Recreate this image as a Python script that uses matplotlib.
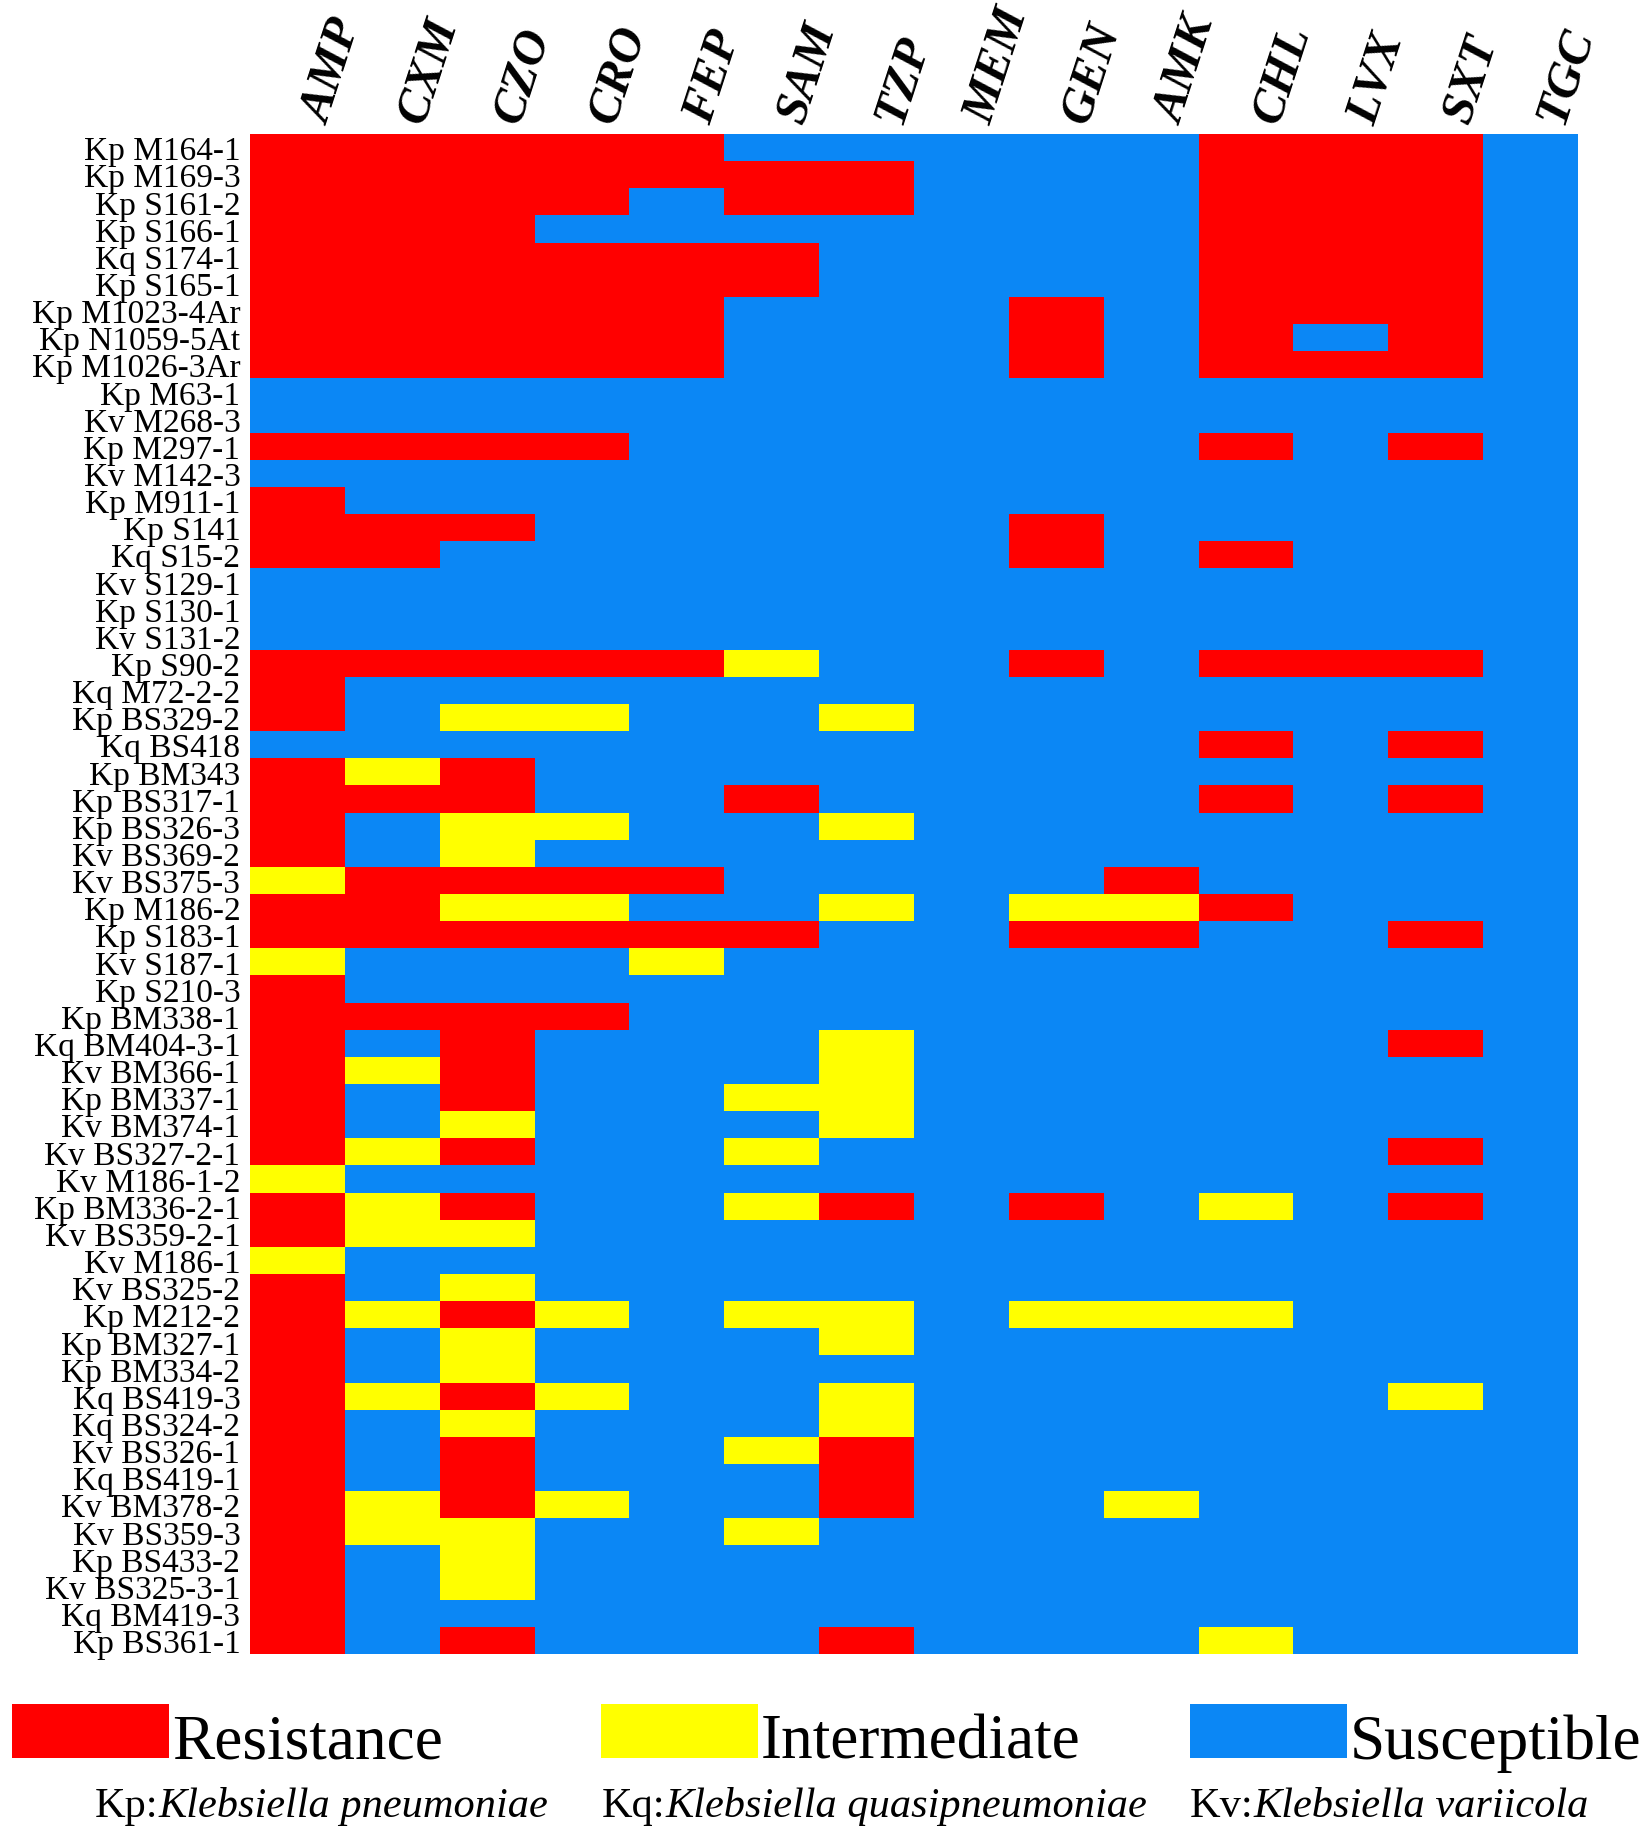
import numpy as np
import matplotlib
matplotlib.use('Agg')
import matplotlib.pyplot as plt
from matplotlib.colors import ListedColormap
from matplotlib.patches import Rectangle
import matplotlib.transforms as mtransforms

antibiotics = ['AMP', 'CXM', 'CZO', 'CRO', 'FEP', 'SAM', 'TZP',
               'MEM', 'GEN', 'AMK', 'CHL', 'LVX', 'SXT', 'TGC']

isolates = [
    'Kp M164-1', 'Kp M169-3', 'Kp S161-2', 'Kp S166-1', 'Kq S174-1',
    'Kp S165-1', 'Kp M1023-4Ar', 'Kp N1059-5At', 'Kp M1026-3Ar', 'Kp M63-1',
    'Kv M268-3', 'Kp M297-1', 'Kv M142-3', 'Kp M911-1', 'Kp S141',
    'Kq S15-2', 'Kv S129-1', 'Kp S130-1', 'Kv S131-2', 'Kp S90-2',
    'Kq M72-2-2', 'Kp BS329-2', 'Kq BS418', 'Kp BM343', 'Kp BS317-1',
    'Kp BS326-3', 'Kv BS369-2', 'Kv BS375-3', 'Kp M186-2', 'Kp S183-1',
    'Kv S187-1', 'Kp S210-3', 'Kp BM338-1', 'Kq BM404-3-1', 'Kv BM366-1',
    'Kp BM337-1', 'Kv BM374-1', 'Kv BS327-2-1', 'Kv M186-1-2', 'Kp BM336-2-1',
    'Kv BS359-2-1', 'Kv M186-1', 'Kv BS325-2', 'Kp M212-2', 'Kp BM327-1',
    'Kp BM334-2', 'Kq BS419-3', 'Kq BS324-2', 'Kv BS326-1', 'Kq BS419-1',
    'Kv BM378-2', 'Kv BS359-3', 'Kp BS433-2', 'Kv BS325-3-1', 'Kq BM419-3',
    'Kp BS361-1',
]

# R = resistance, I = intermediate, S = susceptible (order of antibiotics)
profiles = [
    'RRRRRSSSSSRRRS', 'RRRRRRRSSSRRRS', 'RRRRSRRSSSRRRS', 'RRRSSSSSSSRRRS',
    'RRRRRRSSSSRRRS', 'RRRRRRSSSSRRRS', 'RRRRRSSSRSRRRS', 'RRRRRSSSRSRSRS',
    'RRRRRSSSRSRRRS', 'SSSSSSSSSSSSSS', 'SSSSSSSSSSSSSS', 'RRRRSSSSSSRSRS',
    'SSSSSSSSSSSSSS', 'RSSSSSSSSSSSSS', 'RRRSSSSSRSSSSS', 'RRSSSSSSRSRSSS',
    'SSSSSSSSSSSSSS', 'SSSSSSSSSSSSSS', 'SSSSSSSSSSSSSS', 'RRRRRISSRSRRRS',
    'RSSSSSSSSSSSSS', 'RSIISSISSSSSSS', 'SSSSSSSSSSRSRS', 'RIRSSSSSSSSSSS',
    'RRRSSRSSSSRSRS', 'RSIISSISSSSSSS', 'RSISSSSSSSSSSS', 'IRRRRSSSSRSSSS',
    'RRIISSISIIRSSS', 'RRRRRRSSRRSSRS', 'ISSSISSSSSSSSS', 'RSSSSSSSSSSSSS',
    'RRRRSSSSSSSSSS', 'RSRSSSISSSSSRS', 'RIRSSSISSSSSSS', 'RSRSSIISSSSSSS',
    'RSISSSISSSSSSS', 'RIRSSISSSSSSRS', 'ISSSSSSSSSSSSS', 'RIRSSIRSRSISRS',
    'RIISSSSSSSSSSS', 'ISSSSSSSSSSSSS', 'RSISSSSSSSSSSS', 'RIRISIISIIISSS',
    'RSISSSISSSSSSS', 'RSISSSSSSSSSSS', 'RIRISSISSSSSIS', 'RSISSSISSSSSSS',
    'RSRSSIRSSSSSSS', 'RSRSSSRSSSSSSS', 'RIRISSRSSISSSS', 'RIISSISSSSSSSS',
    'RSISSSSSSSSSSS', 'RSISSSSSSSSSSS', 'RSSSSSSSSSSSSS', 'RSRSSSRSSSISSS',
]

categories = ['Resistance', 'Intermediate', 'Susceptible']
category_codes = ['R', 'I', 'S']
category_colors = ['#FF0000', '#FFFF00', '#0B87F5']

species_abbr = ['Kp:', 'Kq:', 'Kv:']
species_names = ['Klebsiella pneumoniae', 'Klebsiella quasipneumoniae',
                 'Klebsiella variicola']

plt.rcParams['font.family'] = ['Liberation Serif', 'DejaVu Serif']

W, H = 1650, 1840
fig = plt.figure(figsize=(W / 100, H / 100), dpi=100)
fig.patch.set_facecolor('white')

# heatmap axes (pixel layout converted to figure fraction)
hm_left, hm_right, hm_top, hm_bottom = 250, 1578, 135, 1655
ax = fig.add_axes([hm_left / W, 1 - hm_bottom / H,
                   (hm_right - hm_left) / W, (hm_bottom - hm_top) / H])

codes = np.array([[category_codes.index(c) for c in row] for row in profiles])
cmap = ListedColormap(category_colors)
ax.pcolormesh(np.arange(len(antibiotics) + 1), np.arange(len(isolates) + 1),
              codes, cmap=cmap, vmin=-0.5, vmax=2.5, shading='flat')
ax.set_xlim(0, len(antibiotics))
ax.set_ylim(len(isolates), 0)

ax.set_yticks(np.arange(len(isolates)) + 0.5)
ax.set_yticklabels(isolates, fontsize=24)
ax.xaxis.tick_top()
ax.set_xticks(np.arange(len(antibiotics)) + 0.5)
ax.set_xticklabels(antibiotics, fontsize=35, fontweight='bold',
                   fontstyle='italic', rotation=72, ha='center', va='bottom')
ax.tick_params(axis='both', length=0)
ax.tick_params(axis='y', pad=7)
ax.tick_params(axis='x', pad=4)
offset = mtransforms.ScaledTranslation(36 / 100, 0, fig.dpi_scale_trans)
for lab in ax.get_xticklabels():
    lab.set_transform(lab.get_transform() + offset)
for s in ax.spines.values():
    s.set_visible(False)

# legend of categories
patch_x = [12, 601, 1190]
patch_w, patch_top, patch_bot = 157, 1705, 1759
for x0, cat, col in zip(patch_x, categories, category_colors):
    fig.add_artist(Rectangle((x0 / W, 1 - patch_bot / H), patch_w / W,
                             (patch_bot - patch_top) / H,
                             transform=fig.transFigure, facecolor=col,
                             edgecolor='none'))
    fig.text((x0 + patch_w + 3) / W, 1 - patch_bot / H, cat, fontsize=45.5,
             va='baseline', ha='left')

# species key
species_x = [95, 602, 1190]
species_base = 1817
for x0, ab, nm in zip(species_x, species_abbr, species_names):
    t1 = fig.text(x0 / W, 1 - species_base / H, ab, fontsize=30.5,
                  va='baseline', ha='left')
    ax.annotate(nm, xy=(1, 0), xycoords=t1, fontsize=30.5, fontstyle='italic',
                va='bottom', ha='left', annotation_clip=False)

fig.savefig('out.png', dpi=100, facecolor='white')
